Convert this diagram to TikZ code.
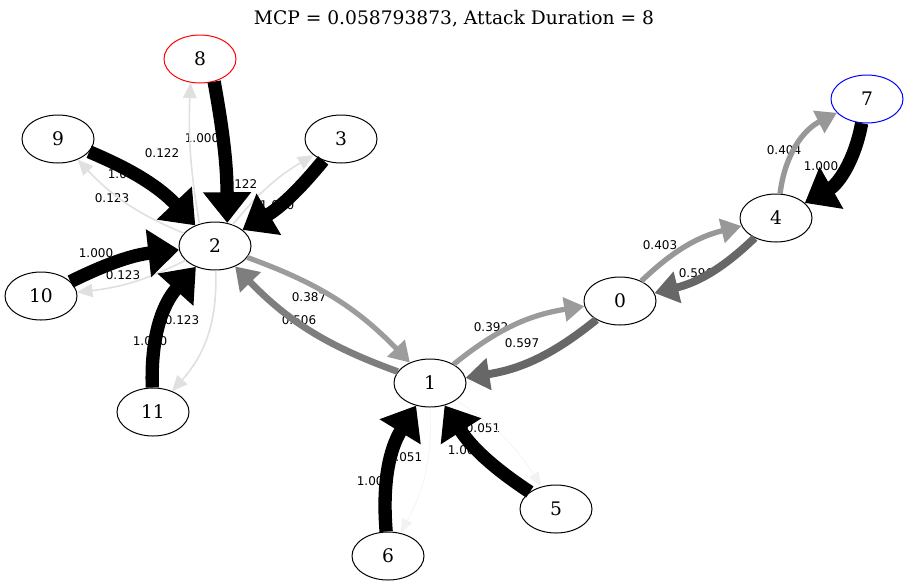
\documentclass[tikz,border=0pt]{standalone}
\usepackage{fontspec}
\setmainfont{DejaVu Serif}
\newfontfamily\probfont{DejaVu Sans}
\usetikzlibrary{shapes.geometric,arrows.meta}

\tikzset{
  state/.style={ellipse,draw,line width=0.75pt,minimum width=54pt,minimum height=36pt,inner sep=0pt,font=\fontsize{14}{16}\selectfont},
  prob/.style={font=\probfont\fontsize{9}{11}\selectfont,inner sep=0pt},
  wt/.style={draw=black!#1,line width=#1*0.1pt},
  link/.style={wt=#1,-{Triangle[length=10pt 1.3,width=6.7pt 2.8]}},
}

\begin{document}
\begin{tikzpicture}[x=0.75pt,y=-0.75pt]
        \useasboundingbox (0,0) rectangle (909,586);

        % Title
        \node[font=\fontsize{14}{16}\selectfont] (title) at (454,19) {MCP = 0.058793873, Attack Duration = 8};

        % States
        \node[state,draw=red] (s8) at (200,59) {8};
        \node[state] (s9) at (58,139) {9};
        \node[state] (s3) at (341,139) {3};
        \node[state] (s2) at (215,246) {2};
        \node[state] (s10) at (41,296) {10};
        \node[state] (s11) at (153,412) {11};
        \node[state] (s1) at (430,383) {1};
        \node[state] (s0) at (620,301) {0};
        \node[state] (s4) at (776,218) {4};
        \node[state,draw=blue] (s7) at (867,99) {7};
        \node[state] (s5) at (556,509) {5};
        \node[state] (s6) at (388,556) {6};

        % Probabilities (under the edges)
        \node[prob] (p28) at (162,153) {0.122};
        \node[prob] (p82) at (202,138) {1.000};
        \node[prob] (p29) at (112,198) {0.123};
        \node[prob] (p92) at (125,174) {1.000};
        \node[prob] (p23) at (240,184) {0.122};
        \node[prob] (p32) at (277,205) {1.000};
        \node[prob] (p102) at (96,253) {1.000};
        \node[prob] (p210) at (123,275) {0.123};
        \node[prob] (p211) at (182,320) {0.123};
        \node[prob] (p112) at (150,341) {1.000};
        \node[prob] (p21) at (309,297) {0.387};
        \node[prob] (p12) at (299,320) {0.506};
        \node[prob] (p10) at (491,327) {0.392};
        \node[prob] (p01) at (522,343) {0.597};
        \node[prob] (p04) at (660,245) {0.403};
        \node[prob] (p40) at (696,273) {0.596};
        \node[prob] (p47) at (784,150) {0.404};
        \node[prob] (p74) at (821,166) {1.000};
        \node[prob] (p15) at (483,428) {0.051};
        \node[prob] (p51) at (465,450) {1.000};
        \node[prob] (p16) at (405,457) {0.051};
        \node[prob] (p61) at (374,481) {1.000};

        % Edges out of 2
        \draw[link=12.2] (s2.125) to[bend left=6] (s8.-112);
        \draw[link=12.3] (s2) to[bend left=12] (s9);
        \draw[link=12.2] (s2) to[bend left=10] (s3);
        \draw[link=12.3] (s2) to[bend left=10] (s10);
        \draw[link=12.3] (s2) to[bend left=22] (s11);
        \draw[link=38.7] (s2) to[bend left=13] (s1);

        % Edges into 2
        \draw[link=100] (s8.-58) to[bend left=5] (s2.62);
        \draw[link=100] (s9) to[bend left=12] (s2);
        \draw[link=100] (s3) to[bend left=10] (s2);
        \draw[link=100] (s10) to[bend left=10] (s2);
        \draw[link=100] (s11) to[bend left=22] (s2);
        \draw[link=50.6] (s1) to[bend left=13] (s2);

        % Edges round 1, 0, 4 and 7
        \draw[link=39.2] (s1) to[bend left=15] (s0);
        \draw[link=59.7] (s0) to[bend left=15] (s1);
        \draw[link=40.3] (s0) to[bend left=15] (s4);
        \draw[link=59.6] (s4) to[bend left=15] (s0);
        \draw[link=40.4] (s4) to[bend left=28] (s7);
        \draw[link=100] (s7) to[bend left=25] (s4);

        % Edges round 1, 5 and 6
        \draw[link=5.1] (s1) to[bend left=12] (s5);
        \draw[link=100] (s5) to[bend left=12] (s1);
        \draw[link=5.1] (s1) to[bend left=15] (s6);
        \draw[link=100] (s6) to[bend left=18] (s1);

\end{tikzpicture}
\end{document}
